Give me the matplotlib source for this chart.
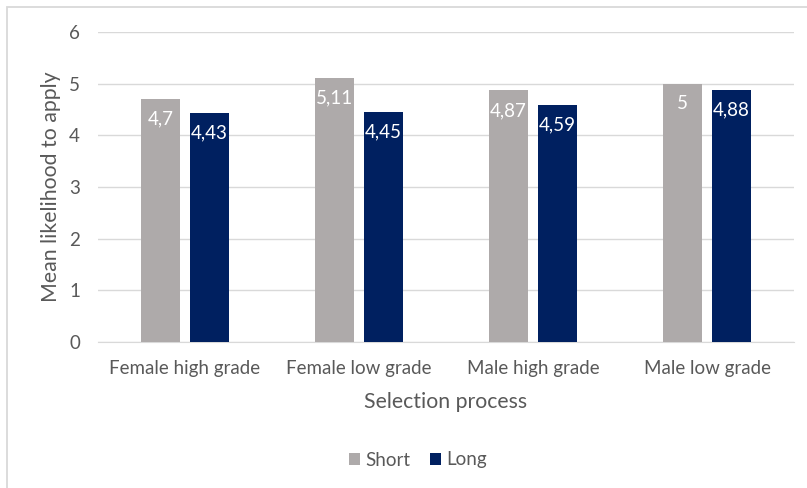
import matplotlib.pyplot as plt
import numpy as np
from matplotlib.patches import Rectangle

categories = ["Female high grade", "Female low grade", "Male high grade", "Male low grade"]
short_vals = [4.7, 5.11, 4.87, 5]
long_vals = [4.43, 4.45, 4.59, 4.88]
short_labels = ["4,7", "5,11", "4,87", "5"]
long_labels = ["4,43", "4,45", "4,59", "4,88"]

plt.rcParams['font.family'] = ['Lato', 'DejaVu Sans']
text_col = "#595959"
grid_col = "#D9D9D9"

fig = plt.figure(figsize=(8.07, 4.88), dpi=100)
ax = fig.add_axes([98 / 807, 1 - 342 / 488, 696 / 807, 310 / 488])

# light frame around the chart area
fig.patches.append(Rectangle((7 / 807, -0.05), 1.1, 1 - 7 / 488 + 0.05,
                             transform=fig.transFigure, fill=False,
                             edgecolor=grid_col, linewidth=1.3))

x = np.arange(len(categories))
w = 0.224
off = 0.141
b1 = ax.bar(x - off, short_vals, w, color="#AEAAAA", label="Short", zorder=3)
b2 = ax.bar(x + off, long_vals, w, color="#002060", label="Long", zorder=3)

for bars, labels in ((b1, short_labels), (b2, long_labels)):
    for rect, lab in zip(bars, labels):
        ax.annotate(lab, (rect.get_x() + rect.get_width() / 2, rect.get_height()),
                    xytext=(0, -14.5), textcoords="offset points",
                    ha="center", va="center", color="white", fontsize=13.5, zorder=4)

ax.set_xlim(-0.5, 3.5)
ax.set_ylim(0, 6)
ax.set_yticks(range(7))
ax.set_xticks(x)
ax.set_xticklabels(categories)
ax.tick_params(axis="both", length=0, colors=text_col, labelsize=13.5)
ax.tick_params(axis="y", pad=13)
ax.tick_params(axis="x", pad=13)
ax.grid(axis="y", color=grid_col, linewidth=1, zorder=0)
for s in ("top", "right", "left"):
    ax.spines[s].set_visible(False)
ax.spines["bottom"].set_color(grid_col)

ax.set_ylabel("Mean likelihood to apply", color=text_col, fontsize=15.3, labelpad=6)
ax.set_xlabel("Selection process", color=text_col, fontsize=15.3, labelpad=11)

leg = fig.legend(handles=[b1, b2], labels=["Short", "Long"], loc="center",
                 bbox_to_anchor=(418 / 807, 1 - 460 / 488), ncol=2, frameon=False,
                 fontsize=13.5, handlelength=0.6, handleheight=0.6, handletextpad=0.3,
                 columnspacing=1.0)
for t in leg.get_texts():
    t.set_color(text_col)

fig.savefig("out.png", dpi=100)
